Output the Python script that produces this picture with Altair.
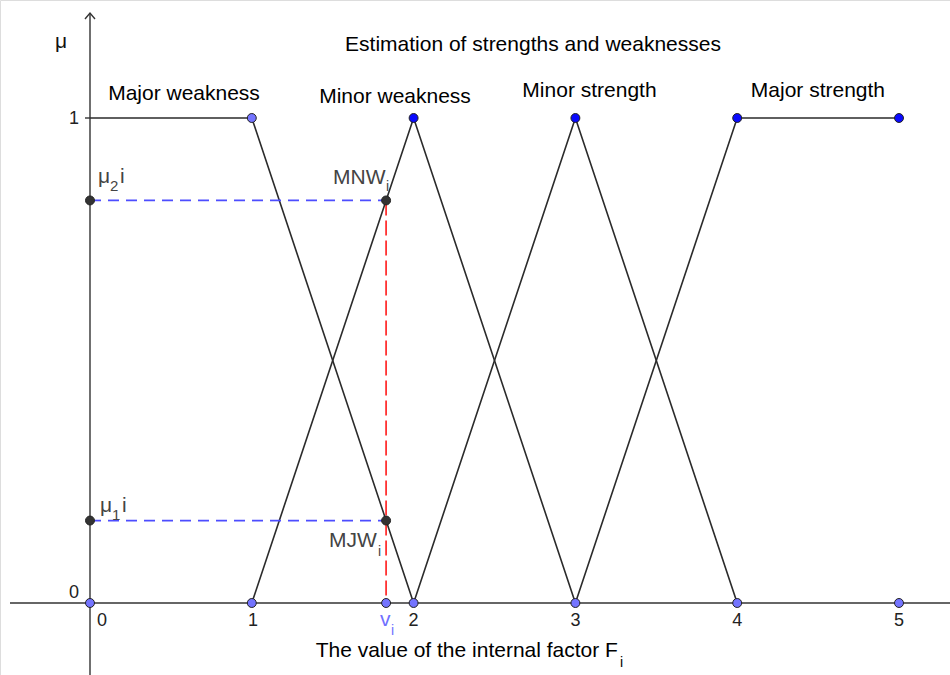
import altair as alt
import pandas as pd

# ---------------- data ----------------
v_i = 1.83
mu2 = 0.83
mu1 = 0.17

set_names = ["Major weakness", "Minor weakness", "Minor strength", "Major strength"]
set_x = [[0, 1, 2], [1, 2, 3], [2, 3, 4], [3, 4, 5]]
set_y = [[1, 1, 0], [0, 1, 0], [0, 1, 0], [0, 1, 1]]

light_x = [0, 1, 1, 2, 3, 4, 5, v_i]
light_y = [0, 0, 1, 0, 0, 0, 0, 0]
dark_x = [2, 3, 4, 5]
dark_y = [1, 1, 1, 1]
gray_x = [0, 0, v_i, v_i]
gray_y = [mu2, mu1, mu2, mu1]

x_ticks = [0, 1, 2, 3, 4, 5]
x_tick_labels = ["0", "1", "2", "3", "4", "5"]
y_ticks = [1, 0]
y_tick_labels = ["1", "0"]

title_text = "Estimation of strengths and weaknesses"
x_title = "The value of the internal factor F"
y_title = "μ"

XDOM = [-90 / 161.8, 860 / 161.8]
YDOM = [-72 / 485, 603 / 485]

xs = alt.Scale(domain=XDOM, nice=False, zero=False)
ys = alt.Scale(domain=YDOM, nice=False, zero=False)
X = lambda f="x": alt.X(f"{f}:Q", scale=xs, axis=None)
Y = lambda f="y": alt.Y(f"{f}:Q", scale=ys, axis=None)

FONT = "Liberation Sans"

# ---------------- axes ----------------
axes_df = pd.DataFrame({
    "x": [-0.4944, 0.0, -0.0309],
    "x2": [XDOM[1], 0.0, 0.0],
    "y": [0.0, YDOM[0], 1.0],
    "y2": [0.0, 1.2165, 1.0],
})
axes = alt.Chart(axes_df).mark_rule(color="#333333", strokeWidth=1.4).encode(
    x=X(), x2="x2:Q", y=Y(), y2="y2:Q"
)
arrow_df = pd.DataFrame({"x": [-0.0309, 0.0, 0.0309], "y": [1.2041, 1.2165, 1.2041], "o": [0, 1, 2]})
arrow = alt.Chart(arrow_df).mark_line(color="#333333", strokeWidth=1.4).encode(
    x=X(), y=Y(), order="o:Q"
)

# ---------------- membership functions ----------------
rows = []
for name, xx, yy in zip(set_names, set_x, set_y):
    for i, (a, b) in enumerate(zip(xx, yy)):
        rows.append({"name": name, "x": a, "y": b, "o": i})
sets_df = pd.DataFrame(rows)
sets = alt.Chart(sets_df).mark_line(color="#2b2b2b", strokeWidth=1.6).encode(
    x=X(), y=Y(), detail="name:N", order="o:Q"
)

# ---------------- dashed guides ----------------
blue_df = pd.DataFrame({"x": [0, 0], "x2": [v_i, v_i], "y": [mu2, mu1]})
blue = alt.Chart(blue_df).mark_rule(color="#4d4dff", strokeWidth=1.8, strokeDash=[11, 7]).encode(
    x=X(), x2="x2:Q", y=Y()
)
red_df = pd.DataFrame({"x": [v_i], "y": [mu2], "y2": [0.0]})
red = alt.Chart(red_df).mark_rule(color="#ff3333", strokeWidth=1.8, strokeDash=[15, 5]).encode(
    x=X(), y=Y(), y2="y2:Q"
)

# ---------------- points ----------------
def pts(xx, yy, fill):
    df = pd.DataFrame({"x": xx, "y": yy})
    return alt.Chart(df).mark_point(
        filled=True, fill=fill, stroke="#222222", strokeWidth=1, size=80, opacity=1
    ).encode(x=X(), y=Y())

light = pts(light_x, light_y, "#7474ff")
dark = pts(dark_x, dark_y, "#0a0aff")
gray = pts(gray_x, gray_y, "#333333")

# ---------------- texts ----------------
def txt(xx, yy, labels, size=20, color="#000000", align="left", dx=0, dy=0):
    df = pd.DataFrame({"x": xx, "y": yy, "t": labels})
    return alt.Chart(df).mark_text(
        font=FONT, fontSize=size, color=color, align=align, baseline="alphabetic", dx=dx, dy=dy
    ).encode(x=X(), y=Y(), text="t:N")

texts = [
    txt([-0.2163], [1.1443], [y_title], size=21, color="#111111"),
    txt([2.738], [1.1381], [title_text], size=21, align="center"),
    txt([0.581, 1.885, 3.087, 4.499], [1.0381, 1.0309, 1.0433, 1.0433], set_names, size=21, align="center"),
    txt([3.263], [-0.1113], [x_title], size=21, align="right"),
    txt([3.263], [-0.1113], ["i"], size=14, align="left", dx=2, dy=10),
    txt([-0.068, -0.068], [0.9876, 0.0103], y_tick_labels, size=18, color="#222222", align="right"),
    txt([0.0742, 1.007, 2, 3, 4, 5], [-0.0474] * 6, x_tick_labels, size=18, color="#222222", align="center"),
    # mu_2 i
    txt([0.0494], [0.866], ["μ"], size=21, color="#444444"),
    txt([0.0494], [0.866], ["2"], size=15, color="#444444", dx=12, dy=8),
    txt([0.0494], [0.866], ["i"], size=21, color="#444444", dx=22),
    # mu_1 i
    txt([0.0618], [0.1876], ["μ"], size=21, color="#444444"),
    txt([0.0618], [0.1876], ["1"], size=15, color="#444444", dx=12, dy=8),
    txt([0.0618], [0.1876], ["i"], size=21, color="#444444", dx=22),
    # MNW_i
    txt([1.5019], [0.8639], ["MNW"], size=21, color="#444444"),
    txt([1.5019], [0.8639], ["i"], size=14, color="#444444", dx=53, dy=7),
    # MJW_i
    txt([1.4771], [0.1155], ["MJW"], size=21, color="#444444"),
    txt([1.4771], [0.1155], ["i"], size=14, color="#444444", dx=49, dy=9),
    # v_i
    txt([1.7923], [-0.0474], ["v"], size=21, color="#7070ff"),
    txt([1.7923], [-0.0474], ["i"], size=14, color="#7070ff", dx=11, dy=9),
]

chart = alt.layer(axes, arrow, sets, blue, red, light, dark, gray, *texts).properties(
    width=950, height=675, padding=0, autosize=alt.AutoSizeParams(type="none")
).configure_view(stroke=None).configure(background="white")

chart.save("out.html", embed_options={"renderer": "svg", "actions": False})
